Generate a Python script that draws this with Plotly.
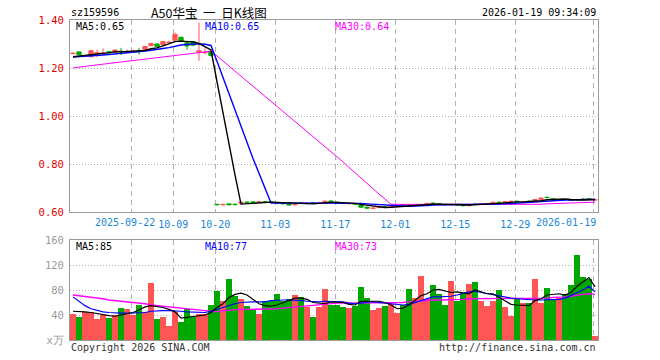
import plotly.graph_objects as go

# ---------------- data ----------------
tick_idx = [10, 17, 24, 34, 44, 54, 64, 74, 87]
tick_text = ["2025-09-22", "10-09", "10-20", "11-03", "11-17", "12-01", "12-15", "12-29", "2026-01-19"]

open_ = [1.260, 1.267, 1.248, 1.247, 1.252, 1.261, 1.268, 1.266, 1.270, 1.268,
         1.268, 1.272, 1.277, 1.293, 1.300, 1.297, 1.306, 1.316, 1.328, 1.305,
         1.310, 1.265, 1.263, 1.268, 0.632, 0.630, 0.634, 0.632, 0.636, 0.641,
         0.642, 0.640, 0.643, 0.642, 0.640, 0.636, 0.633, 0.630, 0.637, 0.635,
         0.639, 0.637, 0.640, 0.646, 0.641, 0.637, 0.634, 0.635, 0.628, 0.620,
         0.615, 0.618, 0.622, 0.620, 0.624, 0.631, 0.631, 0.629, 0.629, 0.631,
         0.637, 0.635, 0.631, 0.630, 0.632, 0.629, 0.626, 0.633, 0.632, 0.633,
         0.636, 0.641, 0.640, 0.643, 0.645, 0.640, 0.645, 0.645, 0.653, 0.661,
         0.655, 0.649, 0.652, 0.651, 0.652, 0.654, 0.655, 0.650]
high = [1.265, 1.268, 1.255, 1.277, 1.276, 1.282, 1.270, 1.278, 1.284, 1.276,
        1.276, 1.284, 1.292, 1.305, 1.302, 1.313, 1.314, 1.348, 1.331, 1.310,
        1.312, 1.390, 1.282, 1.270, 0.634, 0.634, 0.635, 0.636, 0.643, 0.645,
        0.645, 0.645, 0.646, 0.644, 0.641, 0.638, 0.634, 0.634, 0.639, 0.639,
        0.641, 0.641, 0.647, 0.647, 0.642, 0.639, 0.638, 0.636, 0.630, 0.622,
        0.619, 0.624, 0.624, 0.627, 0.630, 0.633, 0.633, 0.633, 0.632, 0.638,
        0.639, 0.636, 0.632, 0.634, 0.633, 0.630, 0.632, 0.635, 0.635, 0.637,
        0.643, 0.643, 0.645, 0.647, 0.646, 0.643, 0.647, 0.654, 0.660, 0.665,
        0.656, 0.652, 0.654, 0.653, 0.655, 0.656, 0.657, 0.652]
low = [1.257, 1.254, 1.246, 1.245, 1.246, 1.256, 1.262, 1.264, 1.254, 1.266,
       1.265, 1.256, 1.274, 1.291, 1.288, 1.294, 1.303, 1.314, 1.308, 1.276,
       1.292, 1.230, 1.258, 1.248, 0.628, 0.628, 0.629, 0.627, 0.635, 0.637,
       0.638, 0.639, 0.639, 0.638, 0.634, 0.632, 0.627, 0.628, 0.633, 0.634,
       0.636, 0.636, 0.639, 0.641, 0.634, 0.633, 0.633, 0.630, 0.618, 0.613,
       0.613, 0.617, 0.618, 0.619, 0.623, 0.628, 0.627, 0.628, 0.627, 0.630,
       0.634, 0.630, 0.628, 0.629, 0.627, 0.624, 0.625, 0.630, 0.631, 0.632,
       0.635, 0.637, 0.639, 0.642, 0.641, 0.639, 0.643, 0.644, 0.652, 0.657,
       0.650, 0.648, 0.649, 0.646, 0.648, 0.650, 0.651, 0.649]
close = [1.262, 1.256, 1.250, 1.272, 1.264, 1.263, 1.265, 1.275, 1.267, 1.270,
         1.271, 1.268, 1.290, 1.302, 1.290, 1.310, 1.308, 1.340, 1.312, 1.292,
         1.295, 1.272, 1.265, 1.252, 0.630, 0.632, 0.630, 0.631, 0.641, 0.640,
         0.641, 0.643, 0.642, 0.640, 0.636, 0.634, 0.629, 0.632, 0.636, 0.637,
         0.638, 0.639, 0.645, 0.642, 0.636, 0.635, 0.636, 0.632, 0.620, 0.616,
         0.617, 0.622, 0.620, 0.625, 0.628, 0.630, 0.629, 0.631, 0.630, 0.636,
         0.636, 0.631, 0.630, 0.632, 0.629, 0.626, 0.630, 0.632, 0.633, 0.635,
         0.641, 0.639, 0.643, 0.645, 0.642, 0.641, 0.644, 0.652, 0.658, 0.660,
         0.652, 0.650, 0.651, 0.648, 0.650, 0.652, 0.653, 0.651]

ma5 = [1.247, 1.250, 1.252, 1.258, 1.261, 1.261, 1.263, 1.268, 1.267, 1.268,
       1.270, 1.270, 1.273, 1.280, 1.284, 1.292, 1.300, 1.310, 1.312, 1.312,
       1.309, 1.302, 1.287, 1.275, 1.143, 1.010, 0.882, 0.755, 0.633, 0.635,
       0.637, 0.639, 0.641, 0.641, 0.640, 0.639, 0.636, 0.634, 0.633, 0.634,
       0.634, 0.636, 0.639, 0.640, 0.640, 0.639, 0.639, 0.636, 0.632, 0.628,
       0.624, 0.621, 0.619, 0.620, 0.622, 0.625, 0.626, 0.629, 0.630, 0.631,
       0.632, 0.633, 0.633, 0.633, 0.632, 0.630, 0.629, 0.630, 0.630, 0.631,
       0.634, 0.636, 0.638, 0.641, 0.642, 0.642, 0.643, 0.645, 0.647, 0.651,
       0.653, 0.654, 0.654, 0.652, 0.650, 0.650, 0.651, 0.651]
ma10 = [1.246, 1.247, 1.248, 1.250, 1.252, 1.254, 1.256, 1.258, 1.260, 1.264,
        1.265, 1.267, 1.271, 1.274, 1.276, 1.281, 1.285, 1.292, 1.296, 1.298,
        1.301, 1.301, 1.299, 1.294, 1.228, 1.160, 1.092, 1.021, 0.954, 0.889,
        0.823, 0.761, 0.698, 0.637, 0.638, 0.638, 0.638, 0.638, 0.637, 0.637,
        0.637, 0.636, 0.637, 0.637, 0.637, 0.637, 0.638, 0.638, 0.636, 0.634,
        0.632, 0.630, 0.628, 0.626, 0.625, 0.625, 0.624, 0.624, 0.625, 0.627,
        0.629, 0.630, 0.631, 0.631, 0.631, 0.631, 0.631, 0.631, 0.632, 0.631,
        0.632, 0.633, 0.634, 0.635, 0.637, 0.638, 0.640, 0.642, 0.644, 0.647,
        0.648, 0.649, 0.650, 0.650, 0.651, 0.652, 0.653, 0.653]
ma30 = [1.200, 1.204, 1.207, 1.210, 1.213, 1.216, 1.219, 1.222, 1.225, 1.228,
        1.231, 1.234, 1.237, 1.240, 1.243, 1.246, 1.249, 1.253, 1.256, 1.259,
        1.262, 1.265, 1.268, 1.270, 1.250, 1.229, 1.209, 1.188, 1.168, 1.148,
        1.127, 1.106, 1.086, 1.065, 1.044, 1.023, 1.002, 0.981, 0.960, 0.938,
        0.917, 0.896, 0.875, 0.853, 0.831, 0.809, 0.786, 0.763, 0.740, 0.718,
        0.696, 0.675, 0.654, 0.632, 0.632, 0.632, 0.632, 0.632, 0.632, 0.632,
        0.631, 0.631, 0.631, 0.630, 0.630, 0.630, 0.630, 0.630, 0.630, 0.630,
        0.630, 0.630, 0.630, 0.630, 0.630, 0.630, 0.630, 0.631, 0.632, 0.634,
        0.635, 0.636, 0.637, 0.638, 0.638, 0.639, 0.640, 0.641]

volume = [42, 37, 45, 45, 34, 40, 35, 40, 52, 50,
          40, 56, 45, 92, 34, 37, 23, 45, 29, 50,
          37, 41, 41, 56, 79, 62, 98, 71, 66, 54,
          50, 42, 63, 63, 74, 63, 66, 72, 69, 53,
          37, 53, 82, 56, 56, 53, 51, 54, 85, 67,
          48, 51, 54, 58, 43, 56, 82, 67, 103, 66,
          88, 74, 56, 94, 63, 75, 89, 93, 63, 54,
          63, 80, 53, 39, 65, 59, 59, 98, 60, 84,
          65, 68, 74, 88, 136, 101, 98, 6]
vma5 = [46, 46, 45, 44, 42, 41, 39, 38, 40, 43,
        44, 48, 53, 55, 54, 52, 49, 45, 35, 36,
        37, 38, 40, 44, 52, 58, 68, 73, 75, 72,
        65, 58, 55, 54, 56, 60, 64, 67, 67, 65,
        60, 59, 58, 61, 61, 60, 57, 56, 62, 62,
        62, 62, 60, 56, 50, 51, 56, 63, 71, 74,
        80, 81, 78, 76, 77, 76, 74, 80, 77, 74,
        74, 68, 63, 57, 56, 56, 55, 63, 66, 72,
        73, 74, 72, 76, 86, 93, 100, 85]
vma10 = [69, 62, 55, 50, 47, 45, 44, 43, 43, 43,
         43, 43, 44, 46, 47, 47, 47, 47, 46, 45,
         45, 44, 44, 46, 49, 53, 56, 58, 60, 61,
         61, 61, 61, 63, 64, 64, 64, 64, 63, 62,
         61, 61, 62, 62, 62, 61, 59, 58, 59, 61,
         61, 60, 58, 57, 57, 56, 57, 60, 63, 66,
         69, 69, 69, 70, 72, 75, 77, 78, 76, 74,
         72, 70, 68, 67, 66, 65, 65, 64, 64, 64,
         64, 65, 67, 71, 76, 80, 86, 77]
vma30 = [72, 71, 70, 69, 68, 66, 64, 63, 62, 61,
         61, 60, 58, 56, 55, 53, 52, 51, 50, 50,
         49, 48, 46, 45, 45, 47, 48, 48, 49, 49,
         49, 49, 49, 49, 50, 51, 52, 53, 54, 55,
         55, 56, 57, 58, 59, 59, 59, 59, 60, 60,
         60, 60, 60, 60, 60, 60, 61, 62, 63, 63,
         64, 64, 64, 64, 65, 65, 66, 66, 66, 66,
         66, 66, 66, 66, 66, 66, 66, 67, 67, 67,
         68, 68, 69, 70, 72, 73, 74, 73]

# ---------------- styling ----------------
RED = "#ff5555"
GREEN = "#00a800"
GRID = "#b0b0b0"
FRAME = "#999999"
XBLUE = "#1a88d8"
MONO = "DejaVu Sans Mono, monospace"

W, H = 660, 360
ML, MR, MT, MB = 70, 62, 20, 20
PW, PH = W - ML - MR, H - MT - MB


def px(page_x):
    return (page_x - ML) / PW


def py(page_y):
    return (H - MB - page_y) / PH


n = len(close)
xs = list(range(n))
up = [c >= o for o, c in zip(open_, close)]
colors = [RED if u else GREEN for u in up]

fig = go.Figure()

# candle bodies
fig.add_trace(go.Bar(
    x=xs, y=[abs(c - o) for o, c in zip(open_, close)],
    base=[min(o, c) for o, c in zip(open_, close)],
    marker=dict(color=colors, line=dict(color=colors, width=1)),
    width=0.72, xaxis="x", yaxis="y", hoverinfo="skip", showlegend=False))

# wicks
for flag, col in ((True, RED), (False, GREEN)):
    wx, wy = [], []
    for i in range(n):
        if up[i] == flag:
            wx += [i, i, None]
            wy += [low[i], high[i], None]
    fig.add_trace(go.Scatter(x=wx, y=wy, mode="lines", line=dict(color=col, width=1),
                             xaxis="x", yaxis="y", hoverinfo="skip", showlegend=False))

# price MAs
for ser, col, w in ((ma30, "#ff00ff", 1), (ma10, "#0000ff", 1.4), (ma5, "#000000", 1.4)):
    fig.add_trace(go.Scatter(x=xs, y=ser, mode="lines", line=dict(color=col, width=w),
                             xaxis="x", yaxis="y", hoverinfo="skip", showlegend=False))

# volume bars
fig.add_trace(go.Bar(x=xs, y=volume, marker=dict(color=colors, line=dict(width=0)),
                     width=0.84, xaxis="x2", yaxis="y2", hoverinfo="skip", showlegend=False))
for ser, col, w in ((vma30, "#ff00ff", 1.4), (vma10, "#0000ff", 1.2), (vma5, "#000000", 1.2)):
    fig.add_trace(go.Scatter(x=xs, y=ser, mode="lines", line=dict(color=col, width=w),
                             xaxis="x2", yaxis="y2", hoverinfo="skip", showlegend=False))

grid_x = [i - 0.3 for i in tick_idx]
# first and last labels are placed as annotations (shifted to stay clear)
labels_x = [""] + tick_text[1:-1] + [""]

axis_common = dict(showline=True, mirror=True, linecolor=FRAME, linewidth=1,
                   zeroline=False, ticks="", fixedrange=True, automargin=False)

fig.update_layout(
    width=W, height=H, margin=dict(l=ML, r=MR, t=MT, b=MB, autoexpand=False),
    paper_bgcolor="white", plot_bgcolor="white", bargap=0,
    font=dict(family=MONO, size=10, color="#000"),
    xaxis=dict(domain=[0, 1], anchor="y", range=[-0.5, n - 0.5],
               tickmode="array", tickvals=grid_x, ticktext=labels_x, tickangle=0,
               tickfont=dict(color=XBLUE, size=10, family=MONO),
               showgrid=True, gridcolor=GRID, griddash="5px,4px", gridwidth=1,
               ticklabelstandoff=3, **axis_common),
    yaxis=dict(domain=[py(212), 1], anchor="x", range=[0.6, 1.4],
               tickmode="array", tickvals=[0.6, 0.8, 1.0, 1.2, 1.4],
               ticktext=["0.60", "0.80", "1.00", "1.20", "1.40"],
               tickfont=dict(color="#e00000", size=10.5, family=MONO),
               showgrid=True, gridcolor=GRID, griddash="1px,2px", gridwidth=1,
               ticklabelstandoff=3, **axis_common),
    xaxis2=dict(domain=[0, 1], anchor="y2", range=[-0.5, n - 0.5], matches="x",
                tickmode="array", tickvals=grid_x, showticklabels=False,
                showgrid=True, gridcolor=GRID, griddash="5px,4px", gridwidth=1,
                **axis_common),
    yaxis2=dict(domain=[0, py(240)], anchor="x2", range=[0, 160],
                tickmode="array", tickvals=[0, 40, 80, 120, 160],
                ticktext=["x万", "40", "80", "120", "160"],
                tickfont=dict(color="#999999", size=10.5, family=MONO),
                showgrid=True, gridcolor=GRID, griddash="1px,2px", gridwidth=1,
                ticklabelstandoff=3, **axis_common),
)


def note(text, x, y, color="#000", size=10, anchor="left", family=MONO):
    fig.add_annotation(text=text, xref="paper", yref="paper", x=px(x), y=py(y),
                       xanchor=anchor, yanchor="middle", showarrow=False,
                       font=dict(color=color, size=size, family=family))


# header
note("sz159596", 69, 13)
note("A50华宝\u00a0\u00a0一\u00a0\u00a0日K线图", 209, 12, size=12.5, anchor="center",
     family="Noto Sans CJK SC, sans-serif")
note("2026-01-19 09:34:09", 598, 13, anchor="right")

# legends
note(f"MA5:{ma5[-1]:.2f}", 74, 27)
note(f"MA10:{ma10[-1]:.2f}", 203, 27, color="#0000ff")
note(f"MA30:{ma30[-1]:.2f}", 333, 27, color="#ff00ff")
note(f"MA5:{vma5[-1]:.0f}", 74, 246)
note(f"MA10:{vma10[-1]:.0f}", 203, 246, color="#0000ff")
note(f"MA30:{vma30[-1]:.0f}", 333, 246, color="#ff00ff")

# first / last date labels
note(tick_text[0], 157, 222, color=XBLUE, anchor="right")
note(tick_text[-1], 598, 222, color=XBLUE, anchor="right")

# footer
note("Copyright 2026 SINA.COM", 69, 347, color="#333")
note("http://finance.sina.com.cn", 598, 347, color="#333", anchor="right")

# the chart fills the whole page, as in the reference
fig.write_html("out.html", config={"displayModeBar": False, "staticPlot": True},
               post_script="document.body.style.margin='0px';")
